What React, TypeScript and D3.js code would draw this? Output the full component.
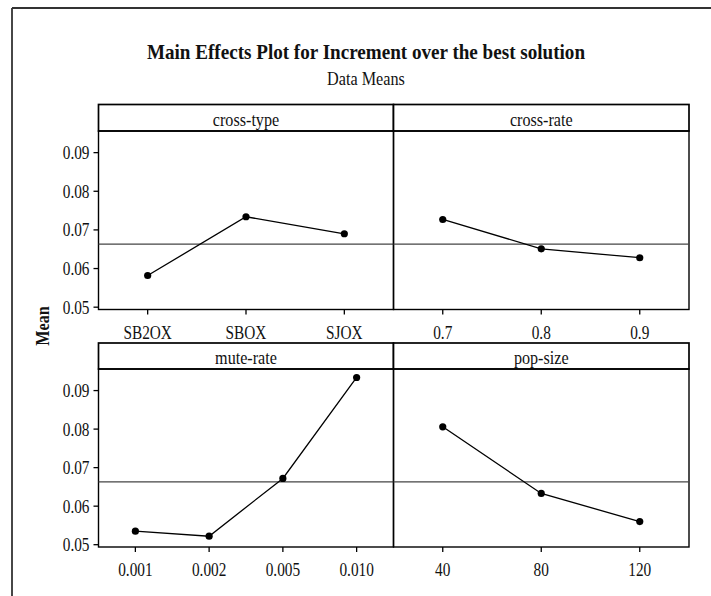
import * as d3 from "d3";

// factor levels and data means
const crossTypeLevels = ["SB2OX", "SBOX", "SJOX"];
const crossTypeMeans = [0.0582, 0.0734, 0.069];

const crossRateLevels = ["0.7", "0.8", "0.9"];
const crossRateMeans = [0.0727, 0.0651, 0.0628];

const muteRateLevels = ["0.001", "0.002", "0.005", "0.010"];
const muteRateMeans = [0.0535, 0.0522, 0.0672, 0.0934];

const popSizeLevels = ["40", "80", "120"];
const popSizeMeans = [0.0806, 0.0633, 0.056];

const grandMean = 0.0663;
const yTicks = [0.05, 0.06, 0.07, 0.08, 0.09];

const W = 711;
const H = 596;
const font = "'Liberation Serif', 'Times New Roman', serif";

const colX = [98.5, 393.5, 689];
const rows = [
  { stripTop: 104.5, plotTop: 131, plotBottom: 309.5 },
  { stripTop: 343, plotTop: 369, plotBottom: 547 },
];

const panels = [
  { name: "cross-type", levels: crossTypeLevels, means: crossTypeMeans, row: 0, col: 0 },
  { name: "cross-rate", levels: crossRateLevels, means: crossRateMeans, row: 0, col: 1 },
  { name: "mute-rate", levels: muteRateLevels, means: muteRateMeans, row: 1, col: 0 },
  { name: "pop-size", levels: popSizeLevels, means: popSizeMeans, row: 1, col: 1 },
];

// narrow serif text, like the squeezed Times in the original
const T = ({ x, y, children, anchor = "middle", size = 17.5, sx = 0.85, weight = "normal", dy = undefined }) => (
  <text
    transform={`translate(${x},${y}) scale(${sx},1)`}
    textAnchor={anchor}
    fontSize={size}
    fontWeight={weight}
    fontFamily={font}
    dy={dy}
    fill="#111"
  >
    {children}
  </text>
);

const Panel = ({ p }) => {
  const r = rows[p.row];
  const x0 = colX[p.col];
  const x1 = colX[p.col + 1];

  const x = d3.scalePoint().domain(p.levels).range([x0, x1]).padding(0.5);
  const y = d3.scaleLinear().domain([0.0494, 0.0956]).range([r.plotBottom, r.plotTop]);

  const line = d3
    .line()
    .x((d, i) => x(p.levels[i]))
    .y((d) => y(d));

  return (
    <g>
      {/* strip header */}
      <rect x={x0} y={r.stripTop} width={x1 - x0} height={r.plotTop - r.stripTop} fill="white" stroke="#000" strokeWidth={1.7} />
      <T x={(x0 + x1) / 2} y={r.plotTop - 5.5} size={19}>
        {p.name}
      </T>
      {/* plot box */}
      <rect x={x0} y={r.plotTop} width={x1 - x0} height={r.plotBottom - r.plotTop} fill="none" stroke="#000" strokeWidth={1.4} />
      {/* grand mean reference */}
      <line x1={x0} x2={x1} y1={y(grandMean)} y2={y(grandMean)} stroke="#444" strokeWidth={1.3} />
      <path d={line(p.means)} fill="none" stroke="#000" strokeWidth={1.3} />
      {p.means.map((m, i) => (
        <circle key={i} cx={x(p.levels[i])} cy={y(m)} r={3.6} fill="#000" />
      ))}
      {/* x axis */}
      {p.levels.map((l) => (
        <g key={l}>
          <line x1={x(l)} x2={x(l)} y1={r.plotBottom} y2={r.plotBottom + 5} stroke="#000" strokeWidth={1.3} />
          <T x={x(l)} y={r.plotBottom + 29} size={18}>
            {l}
          </T>
        </g>
      ))}
      {/* y axis on left column only */}
      {p.col === 0 &&
        yTicks.map((t) => (
          <g key={t}>
            <line x1={x0 - 5} x2={x0} y1={y(t)} y2={y(t)} stroke="#000" strokeWidth={1.3} />
            <T x={x0 - 9} y={y(t)} dy="0.36em" anchor="end" size={18}>
              {d3.format(".2f")(t)}
            </T>
          </g>
        ))}
    </g>
  );
};

export default function App() {
  return (
    <svg width={W} height={H} style={{ position: "absolute", left: 0, top: 0, background: "white" }}>
      <rect width={W} height={H} fill="white" />
      {/* outer frame, only top and left edges visible */}
      <line x1={12} x2={W} y1={8} y2={8} stroke="#333" strokeWidth={1.8} />
      <line x1={12} x2={12} y1={8} y2={H} stroke="#333" strokeWidth={1.8} />

      <text x={366} y={59} textAnchor="middle" fontSize={22} fontWeight="bold" fontFamily={font} textLength={438} lengthAdjust="spacingAndGlyphs" fill="#111">
        Main Effects Plot for Increment over the best solution
      </text>
      <T x={366} y={85} size={18} sx={0.9}>
        Data Means
      </T>

      <text transform="translate(49,326) rotate(-90) scale(0.9,1)" textAnchor="middle" fontSize={18} fontWeight="bold" fontFamily={font} fill="#111">
        Mean
      </text>

      {panels.map((p) => (
        <Panel key={p.name} p={p} />
      ))}
    </svg>
  );
}
